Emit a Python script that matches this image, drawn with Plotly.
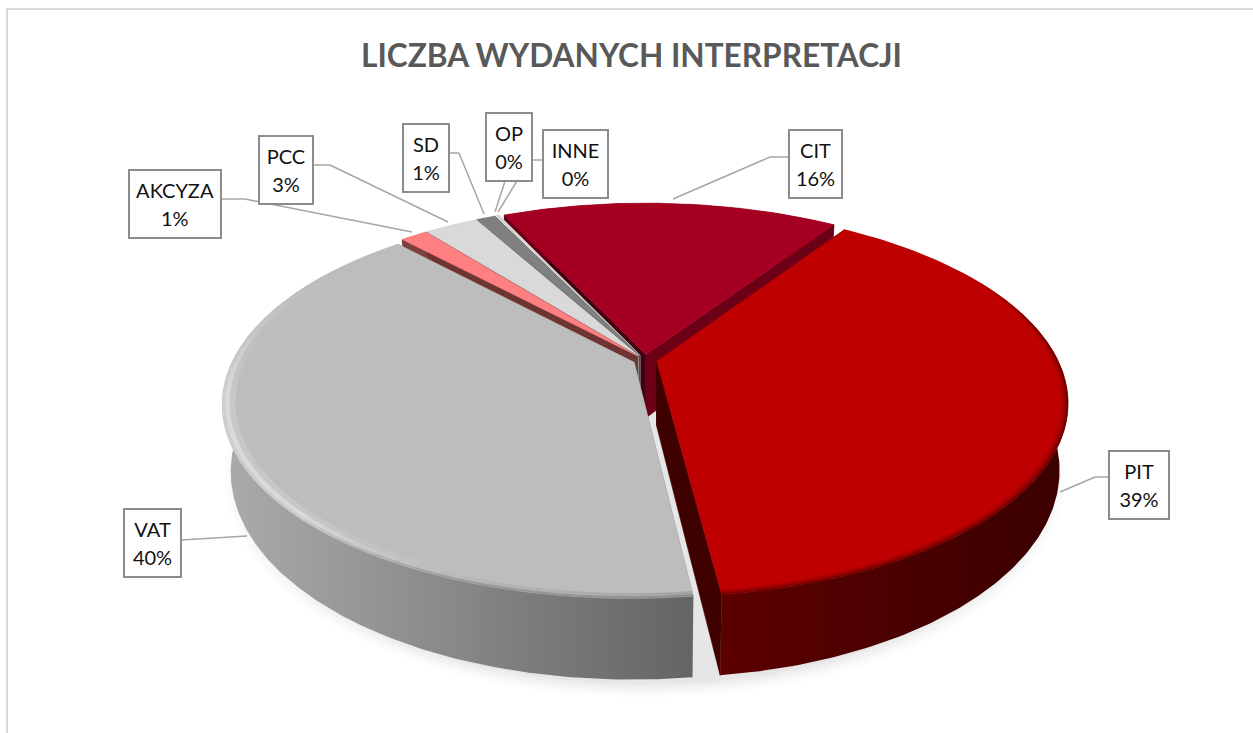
import math
import plotly.graph_objects as go

# ---------- data ----------
TITLE = "LICZBA WYDANYCH INTERPRETACJI"
categories = ["CIT", "PIT", "VAT", "AKCYZA", "PCC", "SD", "OP", "INNE"]
shares = [16.3, 38.7, 40.0, 1.3, 2.6, 0.9, 0.1, 0.1]

top_colors = ["#A50021", "#BF0000", "#BDBDBD", "#FF8080", "#D9D9D9", "#808080", "#E4E4E4", "#E0E0E0"]
start_face_colors = ["#45000F", "#3F0000", "#7C7C7C", "#6E3333", "#8A8A8A", "#505050", "#808080", "#808080"]
end_face_colors = ["#6B0016", "#3F0000", "#7C7C7C", "#6E3333", "#8A8A8A", "#505050", "#808080", "#808080"]
wall_left_colors = ["#6B0016", "#5C0000", "#ABABAB", "#803F3F", "#999999", "#505050", "#808080", "#808080"]
wall_right_colors = ["#6B0016", "#3A0000", "#646464", "#803F3F", "#999999", "#505050", "#808080", "#808080"]
draw_order = ["CIT", "INNE", "OP", "SD", "PCC", "AKCYZA", "VAT", "PIT"]

# label box centre / size in page pixels
label_x = [815.5, 1139, 152.5, 175, 285.5, 425.5, 509, 575]
label_y = [163.5, 485, 542.5, 203.5, 169.5, 158, 147, 164]
label_w = [51, 58, 55, 90, 52, 44, 44, 63]
label_h = [66, 66, 66, 66, 66, 66, 66, 66]

# leader polylines (furniture around the labels)
leaders = {
    "CIT": ([789, 770, 673], [157, 157, 199]),
    "PIT": ([1110, 1095, 1060], [477, 477, 492]),
    "VAT": ([181, 247], [540, 536]),
    "AKCYZA": ([221, 245, 412], [199, 199, 232]),
    "PCC": ([312, 330, 448], [165, 165, 222]),
    "SD": ([448, 459, 484], [153, 153, 214]),
    "OP": ([505, 495], [181, 212]),
    "INNE": ([543, 531], [160, 160]),
    "INNE2": ([517, 498], [181, 212]),
}

# rim shading: (clockwise angle, grey/red level) per bevel layer
vat_bevel = [
    (1.000, 0.993, [(172, 0x8A), (200, 0x9A), (225, 0xCC), (262, 0xD0), (280, 0xC4), (300, 0xBD)]),
    (0.993, 0.982, [(172, 0xA4), (200, 0xB8), (225, 0xDA), (262, 0xDA), (280, 0xC8), (300, 0xBD)]),
    (0.982, 0.970, [(172, 0xBD), (200, 0xBD), (225, 0xC7), (262, 0xC7), (280, 0xBF), (300, 0xBD)]),
]
pit_bevel = [
    (1.000, 0.995, [(60, 0xBF), (80, 0x70), (120, 0x70), (174, 0x70)]),
    (0.995, 0.990, [(60, 0xBF), (80, 0x96), (120, 0x90), (174, 0x90)]),
    (0.990, 0.984, [(60, 0xBF), (80, 0xB0), (120, 0xAC), (174, 0xAC)]),
]

# ---------- projection of the tilted disc ----------
CX, CY = 645.0, 360.0
R = 401.0
S = 0.462
P = 0.21
H = 64.0
EXPLODE = 0.03
ROTATION = -25.0
SHRINK = 0.02


def project(dx, dy, drop=0.0):
    w = 1.0 / (1.0 - P * dy)
    k = 1.0 - SHRINK * drop
    return CX + R * dx * w * k, CY + R * S * dy * w + H * drop * w


def point(theta, r, off, drop=0.0):
    a = math.radians(theta)
    return project(r * math.sin(a) + off[0], -r * math.cos(a) + off[1], drop)


def arc(t0, t1, r, off, drop=0.0):
    n = max(2, int(abs(t1 - t0) * 1.5) + 1)
    return [point(t0 + (t1 - t0) * i / (n - 1), r, off, drop) for i in range(n)]


def poly(points, name, color=None, gradient=None, outline=0.6):
    xs = [p[0] for p in points] + [points[0][0]]
    ys = [p[1] for p in points] + [points[0][1]]
    kw = dict(x=xs, y=ys, mode="lines", fill="toself", name=name, hoverinfo="name", showlegend=False)
    if gradient:
        kw["fillgradient"] = dict(type="horizontal", colorscale=[[i / (len(gradient) - 1), c] for i, c in enumerate(gradient)])
        kw["line"] = dict(width=0)
    else:
        kw["fillcolor"] = color
        kw["line"] = dict(width=outline, color=color)
    return go.Scatter(**kw)


def level(stops, theta):
    if theta <= stops[0][0]:
        return stops[0][1]
    for (a, va), (b, vb) in zip(stops, stops[1:]):
        if theta <= b:
            return va + (vb - va) * (theta - a) / (b - a)
    return stops[-1][1]


def add_bevel(fig, slice_name, layers, to_color, first=None):
    t0, t1, off = geometry[slice_name]
    start = t0 if first is None else max(t0, first)
    for r1, r0, stops in layers:
        steps = int((t1 - start) / 3) + 1
        for s in range(steps):
            a = start + (t1 - start) * s / steps
            b = start + (t1 - start) * (s + 1) / steps
            c = to_color(level(stops, (a + b) / 2))
            fig.add_trace(poly(arc(a, b, r1, off) + arc(b, a, r0, off), slice_name, color=c, outline=0.4))


total = sum(shares)
geometry = {}
angle = ROTATION
for cat, val in zip(categories, shares):
    sweep = 360.0 * val / total
    mid = math.radians(angle + sweep / 2)
    geometry[cat] = (angle, angle + sweep, (EXPLODE * math.sin(mid), -EXPLODE * math.cos(mid)))
    angle += sweep

fig = go.Figure()

# soft cast shadow below the pie
for grow, alpha in [(1.045, 0.012), (1.035, 0.014), (1.025, 0.018), (1.015, 0.022), (1.005, 0.026)]:
    ring = arc(0, 360, grow, (0, 0), 1.09)
    fig.add_trace(poly(ring, "shadow", color=f"rgba(0,0,0,{alpha})", outline=0))

for cat in draw_order:
    i = categories.index(cat)
    t0, t1, off = geometry[cat]
    apex = project(off[0], off[1])
    apex_low = project(off[0], off[1], 1.0)
    # cut faces
    for th, col in ((t0, start_face_colors[i]), (t1, end_face_colors[i])):
        fig.add_trace(poly([apex, point(th, 1, off), point(th, 1, off, 1.0), apex_low], cat, color=col))
    # outer wall
    wall = arc(t0, t1, 1, off) + arc(t1, t0, 1, off, 1.0)
    fig.add_trace(poly(wall, cat, gradient=[wall_left_colors[i], wall_right_colors[i]]))
    # top face
    top = [apex] + arc(t0, t1, 1, off)
    fig.add_trace(poly(top, f"{cat}: {shares[i]}%", color=top_colors[i]))
    if cat == "VAT":
        add_bevel(fig, "VAT", vat_bevel, lambda v: f"rgb({int(v)},{int(v)},{int(v)})")
    if cat == "PIT":
        add_bevel(fig, "PIT", pit_bevel, lambda v: f"rgb({int(v)},0,0)", first=60)

# ---------- layout ----------
shapes = [
    dict(type="line", xref="x", yref="y", x0=7, x1=7, y0=9, y1=733, line=dict(color="#D9D9D9", width=2)),
    dict(type="line", xref="x", yref="y", x0=6, x1=1253, y0=9, y1=9, line=dict(color="#D9D9D9", width=2)),
]
for xs, ys in leaders.values():
    for a in range(len(xs) - 1):
        shapes.append(dict(type="line", xref="x", yref="y", x0=xs[a], x1=xs[a + 1], y0=ys[a], y1=ys[a + 1],
                           line=dict(color="#A6A6A6", width=1.5)))

annotations = [
    dict(x=631, y=55, xref="x", yref="y", text=f"<b>{TITLE}</b>", showarrow=False,
         font=dict(family="Lato", size=31.6, color="#595959"))
]
for c, v, lx, ly, lw, lh in zip(categories, shares, label_x, label_y, label_w, label_h):
    text = f'<span style="font-size:20px">{c}</span><br><span style="font-size:20px">{round(v)}%</span>'
    annotations.append(dict(x=lx, y=ly, xref="x", yref="y", text=text, showarrow=False,
                            width=lw, height=lh, align="center", valign="middle", bgcolor="white",
                            bordercolor="#8C8C8C", borderwidth=2, borderpad=0,
                            font=dict(family="Lato", size=22, color="#111111")))

fig.update_layout(
    width=1253, height=733, margin=dict(l=0, r=0, t=0, b=0),
    paper_bgcolor="white", plot_bgcolor="white", showlegend=False,
    xaxis=dict(range=[0, 1253], visible=False, fixedrange=True),
    yaxis=dict(range=[733, 0], visible=False, fixedrange=True),
    shapes=shapes, annotations=annotations,
)
fig.write_html("out.html", config={"displayModeBar": False}, post_script="document.body.style.margin='0';")
